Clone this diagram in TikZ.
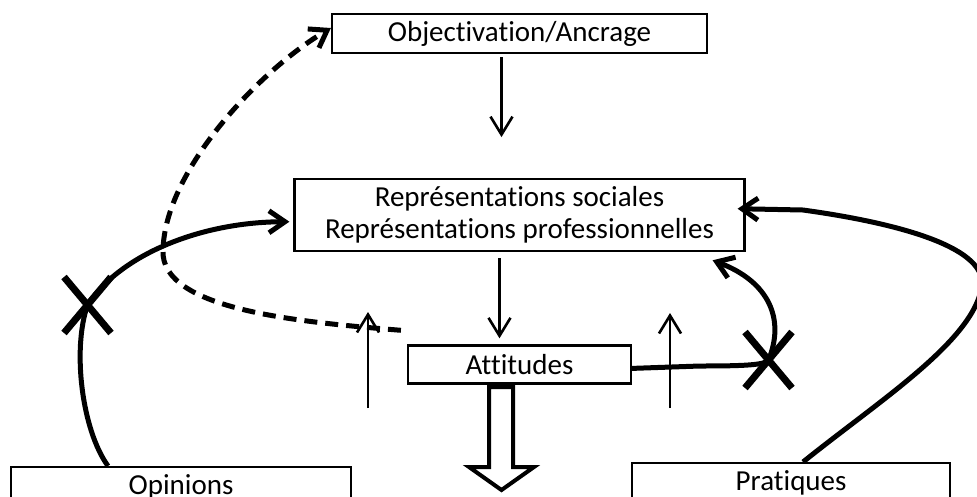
\documentclass[tikz,border=0pt]{standalone}
\usepackage{fontspec}
\setmainfont{Carlito}[Ligatures=NoCommon]
\usepackage{xcolor}
\colorlet{colorLink}{black}
\colorlet{colorBox}{black}
\usepackage{tikz}
\usetikzlibrary{arrows.meta, positioning, shapes.misc}
\tikzset{box/.style={draw=colorBox, line width=2.2pt, inner sep=0pt, align=center, font=\fontsize{29}{32}\selectfont}}
\tikzset{cut/.style={cross out, draw=colorLink, line width=7pt, minimum width=47pt, minimum height=56pt, inner sep=0pt, outer sep=0pt}}

\begin{document}
\begin{tikzpicture}[x=1pt, y=-1pt, thin arrow/.style={-{Straight Barb[length=18pt,width=22pt]}, line width=2.6pt, colorLink}, thick arrow/.style={-{Straight Barb[length=16pt,width=22pt]}, line width=5pt, colorLink}]
\useasboundingbox (0,0) rectangle (977,496);
\clip (0,0) rectangle (977,496);
\node[box, minimum width=375pt, minimum height=39pt] (obj) at (519.5,33.5) {Objectivation/Ancrage};
\node[box, minimum width=450pt, minimum height=72pt, below=124pt of obj] (rep) {Représentations sociales\\Représentations professionnelles};
\node[box, minimum width=223pt, minimum height=38pt, below=92pt of rep] (att) {Attitudes};
\node[box, minimum width=340pt, minimum height=40pt, anchor=north west] (opi) at (10,466) {Opinions};
\node[box, minimum width=318pt, minimum height=40pt, anchor=north west] (pra) at (631,462) {Pratiques};
\node[cut] (cut1) at (87.5,305) {};
\node[cut] (cut2) at (768.5,360) {};
\coordinate (up1) at (368,408);
\coordinate (up2) at (670,408);
% main column
\draw [thin arrow, shorten <=3pt, shorten >=41pt] ([xshift=-18pt]obj.south) -- ([xshift=-18pt]rep.north);
\draw [thin arrow, shorten <=6pt, shorten >=6pt] ([xshift=-20pt]rep.south) -- ([xshift=-20pt]att.north);
\draw [thin arrow] (up1) -- ++(0,-96);
\draw [thin arrow] (up2) -- ++(0,-95);
\draw [line width=4pt, colorLink] (489,387) -- (513,387) -- (513,467) -- (534,467) -- (501.5,490) -- (469,467) -- (489,467) -- cycle;
% loops
\draw [thick arrow, shorten >=4pt] ([xshift=98pt]opi.north west) .. controls (82,430) and (72,350) .. (cut1.center) .. controls (120,255) and (200,222) .. ([yshift=-6.5pt]rep.west);
\draw [thick arrow, dash pattern=on 13pt off 8pt] ([shift={(-6pt,14pt)}]att.north west) .. controls (300,322) and (160,310) .. (163,250) .. controls (165,170) and (260,70) .. ([yshift=5.5pt]obj.west);
\draw [thick arrow] ([xshift=172pt]pra.north west) .. controls (880,400) and (975,340) .. (982,285) .. controls (985,245) and (890,222) .. (803,210) -- ([shift={(-8pt,6.5pt)}]rep.east);
\draw [thick arrow] ([yshift=-4pt]att.east) -- (700,366) .. controls (745,366) and (765,365) .. (cut2.center) .. controls (785,320) and (770,282) .. ([shift={(-33pt,-8pt)}]rep.south east);
\end{tikzpicture}
\end{document}
